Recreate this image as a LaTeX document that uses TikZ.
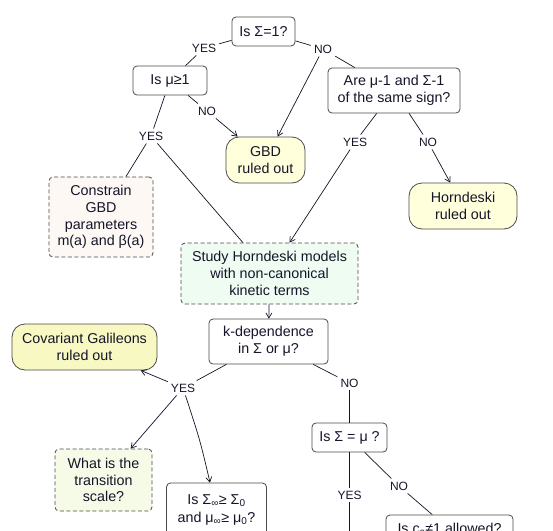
\documentclass[tikz,border=0pt]{standalone}
\usepackage{fontspec}
\setmainfont{Liberation Sans}
\usetikzlibrary{arrows.meta}
\definecolor{txt}{HTML}{15152A}
\definecolor{bord}{HTML}{4A4A4A}
\definecolor{ylw}{HTML}{FFFFDC}
\definecolor{ylwb}{HTML}{F8F8C2}
\definecolor{pinkish}{HTML}{FDF8F3}
\definecolor{mint}{HTML}{EEFCF2}
\definecolor{lime}{HTML}{F5FBE6}
\tikzset{
  box/.style={draw=bord, line width=0.8pt, text=txt, align=center, inner sep=0pt,
    font=\fontsize{14.3}{16.8}\selectfont},
  decision/.style={box, rounded corners=4pt, fill=white},
  terminal/.style={box, rounded corners=13pt, fill=ylw},
  study/.style={box, rounded corners=4pt, dashed, dash pattern=on 4pt off 2.5pt},
  lbl/.style={text=txt, inner sep=3pt, font=\fontsize{12}{14}\selectfont},
  conn/.style={draw=txt!90!black, line width=0.7pt},
  arr/.style={conn, -{Straight Barb[length=5pt,width=6pt]}},
}
\begin{document}
\begin{tikzpicture}[x=1pt,y=-1pt]
\useasboundingbox (0,0) rectangle (553,530);
\clip (0,0) rectangle (553,530);
% nodes
\node[decision, minimum width=63pt, minimum height=29pt] (s1) at (263.5,31.5) {Is Σ=1?};
\node[decision, minimum width=74pt, minimum height=29pt] (mu) at (170,80.5) {Is μ≥1};
\node[terminal, minimum width=79pt, minimum height=46pt] (gbd) at (265.5,160) {GBD\\ruled out};
\node[decision, minimum width=132pt, minimum height=45pt] (are) at (394,90.5) {Are μ-1 and Σ-1\\of the same sign?};
\node[terminal, minimum width=108pt, minimum height=46pt] (hor) at (463,206) {Horndeski\\ruled out};
\node[study, fill=pinkish, minimum width=104pt, minimum height=80pt] (con) at (101,217) {Constrain\\GBD\\parameters\\m(a) and β(a)};
\node[study, fill=mint, minimum width=177pt, minimum height=61pt] (stu) at (269.5,273.5) {Study Horndeski models\\with non-canonical\\kinetic terms};
\node[decision, minimum width=119pt, minimum height=45pt] (kdep) at (268.5,341.5) {k-dependence\\in Σ or μ?};
\node[terminal, fill=ylwb, minimum width=145pt, minimum height=46pt] (cov) at (84.5,347) {Covariant Galileons\\ruled out};
\node[study, fill=lime, minimum width=97pt, minimum height=62pt] (what) at (103.5,480) {What is the\\transition\\scale?};
\node[decision, minimum width=100pt, minimum height=54pt] (sinf) at (216.5,510) {Is Σ\textsubscript{∞}≥ Σ\textsubscript{0}\\[1.5pt]and μ\textsubscript{∞}≥ μ\textsubscript{0}?};
\node[decision, minimum width=75pt, minimum height=29pt] (seq) at (349.5,437.5) {Is Σ = μ ?};
\node[decision, minimum width=127pt, minimum height=29pt] (cs) at (449.5,529.5) {Is c\textsubscript{s}≠1 allowed?};
\coordinate (dn) at (349.5,560);
% labels
\node[lbl] (l1) at (204,48) {YES};
\node[lbl] (l2) at (323,49) {NO};
\node[lbl] (l3) at (207,111) {NO};
\node[lbl] (l4) at (151,136) {YES};
\node[lbl] (l5) at (355,142) {YES};
\node[lbl] (l6) at (428,142) {NO};
\node[lbl] (l7) at (183,388) {YES};
\node[lbl] (l8) at (349.5,383) {NO};
\node[lbl] (l9) at (349.5,495) {YES};
\node[lbl] (l10) at (399,486) {NO};
% connectors
\draw[conn] (s1) -- (l1);
\draw[conn] (l1) -- (mu);
\draw[conn] (s1) -- (l2);
\draw[conn] (l2) -- (are);
\draw[arr] (l2) -- (gbd);
\draw[conn] (mu) -- (l3);
\draw[arr] (l3) -- (gbd);
\draw[conn] (mu) -- (l4);
\draw[conn] (l4) -- (con);
\draw[conn] (l4) -- (stu);
\draw[conn] (are) -- (l5);
\draw[arr] (l5) -- (stu);
\draw[conn] (are) -- (l6);
\draw[arr] (l6) -- (hor);
\draw[arr] (stu) -- (kdep);
\draw[conn] (kdep) -- (l7);
\draw[arr] (l7) -- (cov);
\draw[arr] (l7) -- (what);
\draw[arr] (l7) .. controls (200,440) .. (sinf);
\draw[conn] (kdep) -- (l8);
\draw[conn] (l8) -- (seq);
\draw[conn] (seq) -- (l9);
\draw[conn] (l9) -- (dn);
\draw[conn] (seq) -- (l10);
\draw[conn] (l10) -- (cs);
\end{tikzpicture}
\end{document}
